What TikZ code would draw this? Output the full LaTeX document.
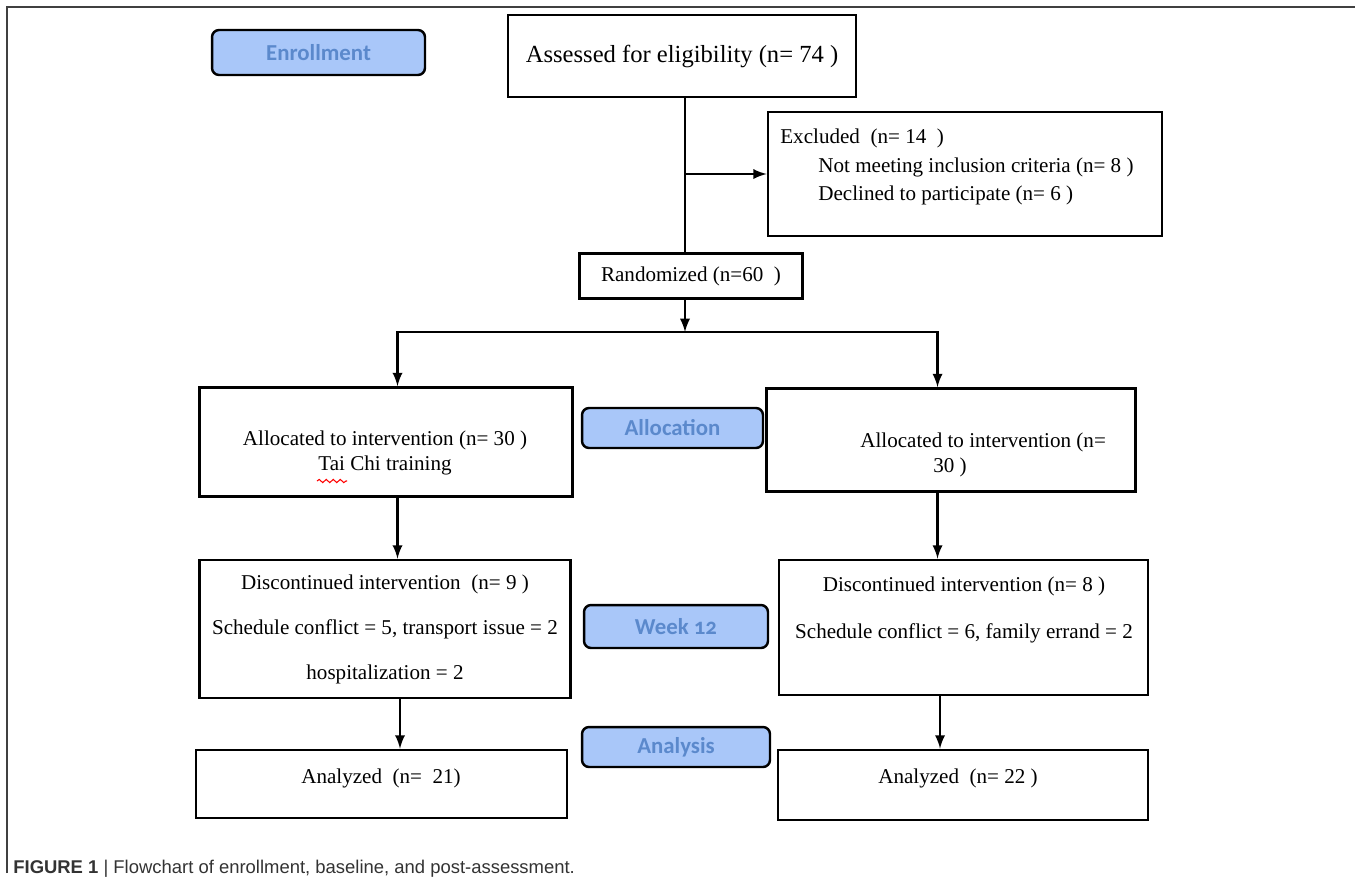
\documentclass[tikz,border=0pt]{standalone}
\usepackage{fontspec}
\setmainfont{Liberation Serif}
\newfontfamily\stagefont[Numbers=OldStyle]{Carlito}
\newfontfamily\captionfont{Liberation Sans}
\usetikzlibrary{arrows}
\usetikzlibrary{shapes}
\usetikzlibrary{decorations.pathmorphing}
\definecolor{stagefill}{HTML}{A9C7F9}
\definecolor{stagetext}{HTML}{5B89CC}

\begin{document}
\begin{tikzpicture}[x=0.02cm,y=-0.02cm]
   \tikzset{BoxStyle/.style={draw,rectangle,line width=1.6pt,inner sep=0pt,font=\fontsize{12}{14.2}\selectfont}}
   \tikzset{TextStyle/.style={inner sep=0pt,font=\fontsize{12}{14.2}\selectfont}}
   \tikzset{StageStyle/.style={draw,rectangle,rounded corners=4pt,line width=1.4pt,fill=stagefill,text=stagetext,
      font=\stagefont\bfseries\fontsize{13}{15}\selectfont,inner sep=0pt}}
   \tikzset{ArrowStyle/.style={->,>=latex,line width=1.6pt}}
   \useasboundingbox (0,0) rectangle (1355,887);
   % frame and caption
   \draw[black!75,line width=1.2pt] (7,873) -- (7,7) -- (1355,7);
   \node[anchor=west,inner sep=0pt,font=\captionfont\fontsize{10.5}{12}\selectfont,text=black!80] (caption) at (13,869)
      {\textbf{FIGURE 1} | Flowchart of enrollment, baseline, and post-assessment.};
   % stage labels
   \node[StageStyle,minimum width=4.26cm,minimum height=0.9cm] (enroll) at (318.5,52.5) {Enrollment};
   \node[StageStyle,minimum width=3.62cm,minimum height=0.8cm] (allocstage) at (672.5,428) {Allocation};
   \node[StageStyle,minimum width=3.68cm,minimum height=0.86cm] (weekstage) at (676,626.5) {Week 12};
   \node[StageStyle,minimum width=3.76cm,minimum height=0.8cm] (analstage) at (676,747) {Analysis};
   % boxes
   \node[BoxStyle,minimum width=6.96cm,minimum height=1.64cm,font=\fontsize{14}{16}\selectfont] (assess) at (682,56)
      {Assessed for eligibility (n= 74 )};
   \node[BoxStyle,minimum width=7.88cm,minimum height=2.48cm] (excl) at (965,174) {};
   \node[TextStyle,anchor=west,align=left,font=\fontsize{12}{16}\selectfont] (excltext) at (780,167)
      {Excluded~~(n= 14~~)\\\hspace*{0.76cm}Not meeting inclusion criteria (n= 8 )\\\hspace*{0.76cm}Declined to participate (n= 6 )};
   \node[BoxStyle,minimum width=4.46cm,minimum height=0.9cm] (rand) at (691,276) {Randomized (n=60~~)};
   \coordinate (split) at (685,332);
   \node[BoxStyle,minimum width=7.46cm,minimum height=2.18cm] (allocL) at (386,442) {};
   \node[TextStyle,align=center] (allocLtext) at (385,453)
      {Allocated to intervention (n= 30 )\\Tai Chi training};
   \draw[red,line width=0.6pt,decorate,decoration={snake,amplitude=0.9pt,segment length=4pt}] (317,481) -- (347,481);
   \node[BoxStyle,minimum width=7.38cm,minimum height=2.06cm] (allocR) at (951,440) {};
   \node[TextStyle,anchor=west,align=left] (allocRtext) at (860,455)
      {Allocated to intervention (n=\\\hspace*{1.46cm}30 )};
   \node[BoxStyle,minimum width=7.42cm,minimum height=2.76cm,align=center,font=\fontsize{12}{25.6}\selectfont] (discL) at (385,629)
      {Discontinued intervention~~(n= 9 )\\Schedule conflict = 5, transport issue = 2\\hospitalization = 2};
   \node[BoxStyle,minimum width=7.38cm,minimum height=2.7cm] (discR) at (963.5,627.5) {};
   \node[TextStyle,align=center,font=\fontsize{12}{26.7}\selectfont] (discRtext) at (964,610)
      {Discontinued intervention (n= 8 )\\Schedule conflict = 6, family errand = 2};
   \node[BoxStyle,minimum width=7.42cm,minimum height=1.36cm] (analL) at (381.5,784) {};
   \node[TextStyle] (analLtext) at (381,778) {Analyzed~~(n=~~21)};
   \node[BoxStyle,minimum width=7.4cm,minimum height=1.4cm] (analR) at (963,785) {};
   \node[TextStyle] (analRtext) at (958,778) {Analyzed~~(n= 22 )};
   % connectors
   \draw[line width=1.6pt] (assess.south -| split) -- (rand.north -| split);
   \draw[ArrowStyle] (split |- excl.west) -- (excl.west);
   \draw[ArrowStyle] (rand.south -| split) -- (split);
   \draw[ArrowStyle] (split) -| ([xshift=0.23cm]allocL.north);
   \draw[ArrowStyle] (split) -| ([xshift=-0.27cm]allocR.north);
   \draw[ArrowStyle] ([xshift=0.23cm]allocL.south) -- ([xshift=0.23cm]allocL.south |- discL.north);
   \draw[ArrowStyle] ([xshift=-0.27cm]allocR.south) -- ([xshift=-0.27cm]allocR.south |- discR.north);
   \draw[ArrowStyle] ([xshift=0.3cm]discL.south) -- ([xshift=0.3cm]discL.south |- analL.north);
   \draw[ArrowStyle] ([xshift=-0.47cm]discR.south) -- ([xshift=-0.47cm]discR.south |- analR.north);
\end{tikzpicture}
\end{document}
